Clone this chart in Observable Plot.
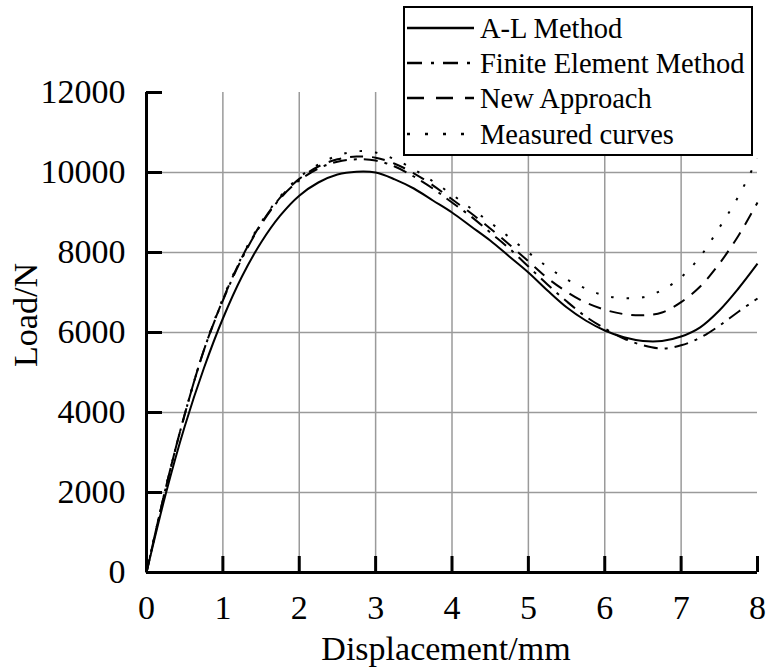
<!DOCTYPE html>
<html><head><meta charset="utf-8">
<script src="https://cdn.jsdelivr.net/npm/d3@7"></script>
<script src="https://cdn.jsdelivr.net/npm/@observablehq/plot@0.6"></script>
<style>body{margin:0;background:#fff}#chart{width:767px;height:670px}</style>
</head><body><div id="chart"></div>
<script>
// ---- data ----
const displacement = [0,0.25,0.5,0.75,1,1.25,1.5,1.75,2,2.25,2.5,2.75,3,3.25,3.5,3.75,4,4.25,4.5,4.75,5,5.25,5.5,5.75,6,6.25,6.5,6.75,7,7.25,7.5,7.75,8];
const alMethod   = [0,1950,3650,5100,6350,7400,8250,8920,9420,9750,9950,10020,10000,9830,9600,9300,9000,8650,8300,7900,7500,7050,6630,6300,6050,5880,5790,5790,5900,6130,6550,7100,7720];
const femMethod  = [0,2100,3950,5550,6800,7850,8700,9350,9800,10100,10270,10330,10300,10150,9900,9600,9250,8900,8500,8100,7650,7200,6780,6400,6100,5850,5680,5600,5680,5870,6170,6520,6850];
const newApproach= [0,2100,3950,5550,6820,7880,8720,9370,9840,10150,10330,10400,10370,10220,9980,9680,9330,8980,8600,8200,7780,7360,7020,6750,6570,6460,6430,6500,6760,7150,7720,8420,9250];
const measured   = [0,2100,3950,5550,6850,7900,8750,9400,9880,10200,10420,10530,10500,10330,10080,9780,9450,9100,8750,8380,8000,7640,7330,7100,6920,6860,6880,7060,7380,7900,8620,9400,10350];
const seriesNames = ["A-L Method","Finite Element Method","New Approach","Measured curves"];
const xTicks = [0,1,2,3,4,5,6,7,8];
const yTicks = [0,2000,4000,6000,8000,10000,12000];
const xGrid = [1,2,3,4,5,6,7];
const yGrid = [2000,4000,6000,8000,10000];
const xLabel = "Displacement/mm";
const yLabel = "Load/N";

// ---- styles ----
const dashes = {"A-L Method": null, "Finite Element Method": "14,7,3,7", "New Approach": "13,9", "Measured curves": "2.5,13"};
const legendDashes = {"A-L Method": null, "Finite Element Method": "15,9,3,9", "New Approach": "17,12", "Measured curves": "3,15"};

const seriesValues = [alMethod, femMethod, newApproach, measured];
const rows = seriesNames.map((name, k) => displacement.map((x, i) => ({x, y: seriesValues[k][i], series: name})));

const FONT = "'Liberation Serif','Times New Roman',serif";
const gridStyle = {stroke: "#9a9a9a", strokeOpacity: 1, strokeWidth: 1.5};

const chart = Plot.plot({
  width: 767, height: 670,
  marginLeft: 146, marginRight: 10, marginTop: 92, marginBottom: 98,
  style: {fontFamily: FONT, fontSize: "34px", color: "black", background: "white"},
  x: {domain: [0, 8]},
  y: {domain: [0, 12000]},
  marks: [
    Plot.gridX(xGrid, gridStyle),
    Plot.gridY(yGrid, gridStyle),
    ...rows.map((data, k) => Plot.line(data, {
      x: "x", y: "y", curve: "catmull-rom", stroke: "black", strokeWidth: 2,
      strokeDasharray: dashes[seriesNames[k]] || undefined, strokeLinecap: "butt"
    })),
    Plot.ruleX([0], {strokeWidth: 3}),
    Plot.ruleY([0], {strokeWidth: 3}),
    Plot.axisX(xTicks, {tickSize: -16, tickPadding: 38, strokeWidth: 3, tickFormat: d3.format("d"), label: null}),
    Plot.axisY(yTicks, {tickSize: -16, tickPadding: 37, strokeWidth: 3, tickFormat: d3.format("d"), label: null})
  ]
});
document.getElementById("chart").appendChild(chart);

const svg = d3.select(chart);
// axis titles
svg.append("text").attr("x", 446).attr("y", 660).attr("text-anchor", "middle")
  .attr("font-family", FONT).attr("font-size", 34).attr("fill", "black").text(xLabel);
svg.append("text").attr("transform", "translate(37,315) rotate(-90)").attr("text-anchor", "middle")
  .attr("font-family", FONT).attr("font-size", 34).attr("fill", "black").text(yLabel);

// legend
const lg = svg.append("g").attr("text-anchor", "start");
lg.append("rect").attr("x", 404).attr("y", 7).attr("width", 348).attr("height", 148)
  .attr("fill", "white").attr("stroke", "black").attr("stroke-width", 2);
const rowY = [28, 63, 98, 134];
seriesNames.forEach((name, i) => {
  lg.append("line").attr("x1", 407).attr("x2", 474).attr("y1", rowY[i]).attr("y2", rowY[i])
    .attr("stroke", "black").attr("stroke-width", 2.6)
    .attr("stroke-dasharray", legendDashes[name]);
  lg.append("text").attr("x", 480).attr("y", rowY[i]).attr("dy", "0.34em").attr("text-anchor", "start")
    .attr("font-family", FONT).attr("font-size", 28.5).attr("fill", "black").text(name);
});
</script>
</body></html>
